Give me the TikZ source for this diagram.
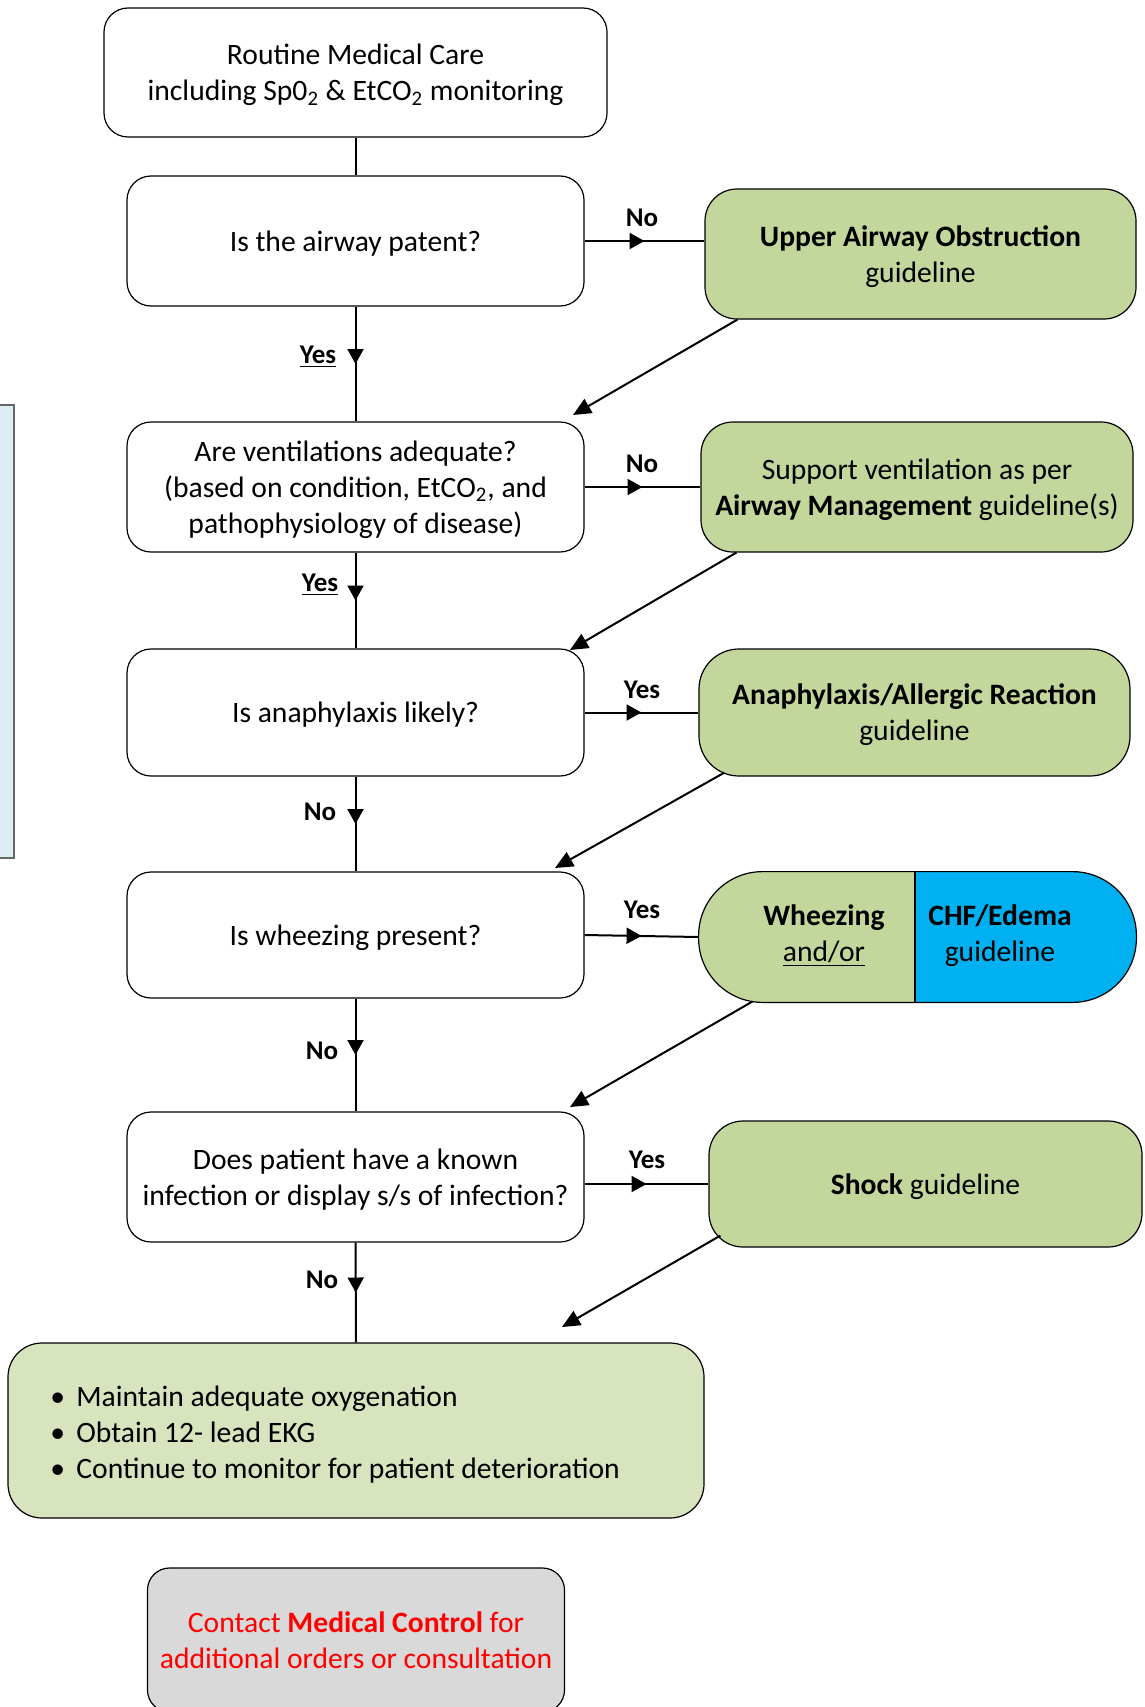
\documentclass[tikz,border=0pt]{standalone}
\usepackage{fontspec}
\setmainfont{Carlito}
\usetikzlibrary{arrows.meta,decorations.markings,calc}
\definecolor{grn}{HTML}{C3D69B}
\definecolor{lgrn}{HTML}{D7E4BD}
\definecolor{cyb}{HTML}{00B0F0}
\definecolor{gry}{HTML}{D9D9D9}
\definecolor{lblue}{HTML}{DAEEF3}
\definecolor{rd}{HTML}{FF0000}
\newcommand\bodyfs{\fontsize{14.8}{18}\selectfont}
\newcommand\lblfs{\fontsize{13.5}{15}\selectfont}
\begin{document}
\begin{tikzpicture}[x=0.5pt,y=-0.5pt,
  qbox/.style={draw, rounded corners=12pt, align=center, font=\bodyfs, inner sep=0pt, line width=0.6pt, fill=white, text depth=0pt},
  gbox/.style={draw, fill=grn, align=center, font=\bodyfs, inner sep=0pt, line width=0.6pt, text depth=0pt},
  lbl/.style={font=\lblfs\bfseries, inner sep=0pt},
  conn/.style={line width=1pt},
  marr/.style={conn, postaction={decorate}, decoration={markings, mark=at position 0.5 with {\arrow{Triangle[length=7.5pt,width=8pt]}}}},
  darr/.style={conn, -{Triangle[length=9pt,width=8pt]}}
]
\useasboundingbox (0,0) rectangle (1145,1707);

% left cut-off panel
\fill[lblue] (0,405) rectangle (14,858);
\draw[line width=0.9pt, black!60] (0,405) -- (14,405) -- (14,858) -- (0,858);

% nodes
\node[qbox, minimum width=251.5pt, minimum height=64.5pt] (b1) at (355.5,72.5) {Routine Medical Care\\including Sp0\textsubscript{2} \& EtCO\textsubscript{2} monitoring};
\node[qbox, minimum width=228.5pt, minimum height=65pt] (b2) at (355.5,241) {Is the airway patent?};
\node[gbox, rounded corners=16pt, minimum width=215.5pt, minimum height=65pt] (uao) at (920.5,254) {\textbf{Upper Airway Obstruction}\\guideline};
\node[qbox, minimum width=228.5pt, minimum height=65pt] (b3) at (355.5,487) {Are ventilations adequate?\\(based on condition, EtCO\textsubscript{2}, and\\pathophysiology of disease)};
\node[gbox, rounded corners=16pt, minimum width=216pt, minimum height=65pt] (sup) at (917,487) {Support ventilation as per\\\textbf{Airway Management} guideline(s)};
\node[qbox, minimum width=228.5pt, minimum height=63.5pt] (b4) at (355.5,712.5) {Is anaphylaxis likely?};
\node[gbox, rounded corners=20pt, minimum width=215.5pt, minimum height=63.5pt] (ana) at (914.5,712.5) {\textbf{Anaphylaxis/Allergic Reaction}\\guideline};
\node[qbox, minimum width=228.5pt, minimum height=63pt] (b5) at (355.5,935) {Is wheezing present?};

% wheezing pill
\node[minimum width=218.5pt, minimum height=65pt, inner sep=0pt] (wh) at (917.5,937) {};
\begin{scope}
  \clip[rounded corners=32pt] (wh.south west) rectangle (wh.north east);
  \fill[grn] (wh.south west) rectangle (wh.north east);
  \fill[cyb] (915,860) rectangle (1150,1010);
\end{scope}
\draw[line width=0.6pt] (915,872) -- (915,1002);
\draw[line width=0.6pt, rounded corners=32pt] (wh.south west) rectangle (wh.north east);
\node[font=\bodyfs, align=center, inner sep=0pt] (whl) at (824,935.5) {\textbf{Wheezing}\\\underline{and/or}};
\node[font=\bodyfs, align=center, inner sep=0pt] (whr) at (1000,935.5) {\textbf{CHF/Edema}\\guideline};

\node[qbox, minimum width=228.5pt, minimum height=65pt] (b6) at (355.5,1177) {Does patient have a known\\infection or display s/s of infection?};
\node[gbox, rounded corners=17pt, minimum width=216.5pt, minimum height=63pt] (shk) at (925.5,1184) {\textbf{Shock} guideline};

\node[draw, fill=lgrn, rounded corners=17pt, minimum width=348pt, minimum height=87.5pt, line width=0.6pt] (fin) at (356,1430.5) {};
\node[anchor=west, align=left, font=\bodyfs, inner sep=0pt] (fintxt) at (50,1434.5) {\makebox[13pt][l]{\textbullet}Maintain adequate oxygenation\\\makebox[13pt][l]{\textbullet}Obtain 12- lead EKG\\\makebox[13pt][l]{\textbullet}Continue to monitor for patient deterioration};

\begin{scope}
  \clip (0,0) rectangle (1145,1707);
  \node[draw, fill=gry, rounded corners=11pt, minimum width=208.5pt, minimum height=72pt, line width=0.6pt, align=center, font=\bodyfs, text=rd, inner sep=0pt] (con) at (356,1640) {Contact \textbf{Medical Control} for\\additional orders or consultation};
\end{scope}

% connectors
\draw[conn] (b1.south) -- (b2.north);
\draw[marr] (b2.south) -- (b3.north);
\draw[marr] (b2.east) -- (b2.east -| uao.west);
\draw[marr] (b3.east) -- (sup.west);
\draw[marr] (b3.south) -- (b4.north);
\draw[marr] (b4.east) -- (ana.west);
\draw[marr] (b4.south) -- (b5.north);
\draw[marr] (b5.east) -- (wh.west);
\draw[marr] (b5.south) -- (b6.north);
\draw[marr] (shk.west -| b6.east) -- (shk.west);
\draw[marr] (b6.south) -- (fin.north);

% return arrows
\coordinate (t1) at (573,415);
\coordinate (t2) at (570,650);
\coordinate (t3) at (555,868);
\coordinate (t4) at (570,1107);
\coordinate (t5) at (562,1327);
\draw[darr] ($(uao.south west)+(33,0)$) -- (t1);
\draw[darr] ($(sup.south west)+(36,0)$) -- (t2);
\draw[darr] ($(ana.south west)+(26,-4)$) -- (t3);
\draw[darr] ($(wh.south west)+(54,-1)$) -- (t4);
\draw[darr] ($(shk.south west)+(12,-12)$) -- (t5);

% labels
\node[lbl] (l1) at (318,357) {\underline{Yes}};
\node[lbl] (l2) at (320,585) {\underline{Yes}};
\node[lbl] (l3) at (320,812) {No};
\node[lbl] (l4) at (322,1051) {No};
\node[lbl] (l5) at (322,1280) {No};
\node[lbl] (l6) at (642,218) {No};
\node[lbl] (l7) at (642,464) {No};
\node[lbl] (l8) at (642,690) {Yes};
\node[lbl] (l9) at (642,910) {Yes};
\node[lbl] (l10) at (647,1160) {Yes};
\end{tikzpicture}
\end{document}
